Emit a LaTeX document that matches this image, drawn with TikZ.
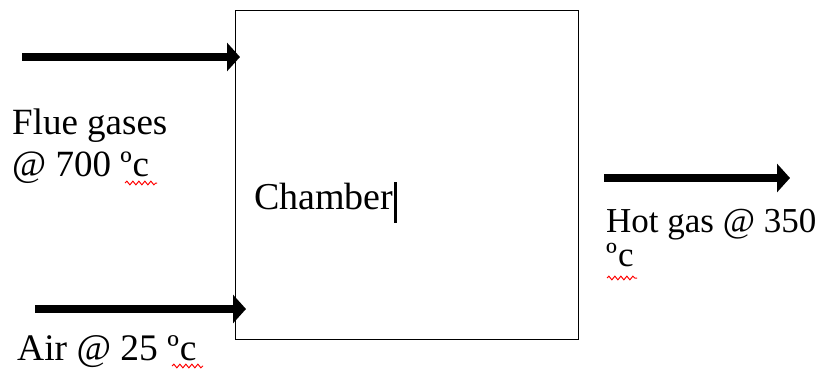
\documentclass[tikz,border=0pt]{standalone}
\usepackage{fontspec}
\setmainfont{Liberation Serif}
\usetikzlibrary{arrows.meta,decorations.pathmorphing}
\begin{document}
\begin{tikzpicture}[x=1pt,y=-1pt,
  flow/.style={line width=8.5pt,-{Triangle[length=13pt,width=28pt]}},
  lbl/.style={anchor=base west,inner sep=0pt},
  squiggle/.style={red,line width=1pt,decorate,
    decoration={snake,amplitude=1.8pt,segment length=6pt}}]
  \useasboundingbox (0,0) rectangle (822,370);
  % reaction chamber
  \node[draw,line width=1.4pt,minimum width=343pt,minimum height=329pt,
        inner sep=0pt,anchor=north west] (chamber) at (235,10) {};
  % stream end points
  \coordinate (flueIn) at (22,57);
  \coordinate (flueTip) at (240,57);
  \coordinate (airIn) at (35,309);
  \coordinate (airTip) at (246,309);
  \coordinate (hotOut) at (604,178);
  \coordinate (hotTip) at (790,178);
  \draw[flow] (flueIn) -- (flueTip);
  \draw[flow] (airIn) -- (airTip);
  \draw[flow] (hotOut) -- (hotTip);
  % labels
  \node[lbl,font=\fontsize{37}{40}\selectfont] (flue1) at (12,134) {Flue gases};
  \node[lbl,font=\fontsize{37}{40}\selectfont] (flue2) at (12,176) {@ 700 º\kern1pt c};
  \node[lbl,font=\fontsize{37.5}{40}\selectfont] (air) at (17,360) {Air @ 25 º\kern1pt c};
  \node[lbl,font=\fontsize{35}{40}\selectfont] (hot1) at (606,232) {Hot gas @ 350};
  \node[lbl,font=\fontsize{35}{40}\selectfont] (hot2) at (606,266) {º\kern1pt c};
  \node[lbl,font=\fontsize{38}{40}\selectfont] (chname) at (254,209) {Chamber};
  % text cursor
  \coordinate (curTop) at (395.5,182);
  \coordinate (curBot) at (395.5,223);
  \draw[line width=2.2pt] (curTop) -- (curBot);
  % spell-check marks
  \draw[squiggle] (125,183) -- (157,183);
  \draw[squiggle] (172,366) -- (203,366);
  \draw[squiggle] (607,278) -- (637,278);
\end{tikzpicture}
\end{document}
